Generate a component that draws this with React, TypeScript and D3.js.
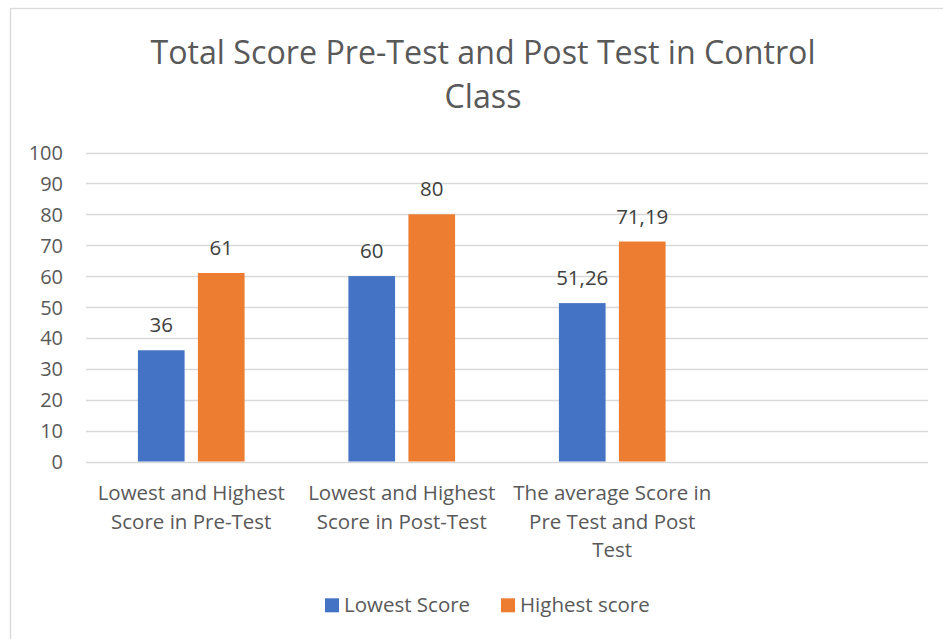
import React from "react";
import * as d3 from "d3";

const titleLines = ["Total Score Pre-Test and Post Test in Control", "Class"];
const categories = [
  "Lowest and Highest Score in Pre-Test",
  "Lowest and Highest Score in Post-Test",
  "The average Score in Pre Test and Post Test",
  "",
];
const seriesNames = ["Lowest Score", "Highest score"];
const lowestValues = [36, 60, 51.26];
const highestValues = [61, 80, 71.19];
const yTicks = [0, 10, 20, 30, 40, 50, 60, 70, 80, 90, 100];
const seriesColors = ["#4472C4", "#ED7D31"];

const W = 943;
const H = 639;
const FONT = "'Open Sans', sans-serif";
const plot = { left: 86, right: 928, top: 152.5, bottom: 461.5 };

let ctx: CanvasRenderingContext2D | null = null;
function measure(text: string, size: number) {
  if (!ctx) ctx = document.createElement("canvas").getContext("2d");
  if (!ctx) return text.length * size * 0.5;
  ctx.font = `${size}px 'Open Sans'`;
  return ctx.measureText(text).width;
}
function wrap(text: string, maxW: number, size: number) {
  const words = text.split(" ").filter(Boolean);
  const lines: string[] = [];
  let cur = "";
  for (const w of words) {
    const t = cur ? cur + " " + w : w;
    if (cur && measure(t, size) > maxW) {
      lines.push(cur);
      cur = w;
    } else cur = t;
  }
  if (cur) lines.push(cur);
  return lines;
}

export default function App() {
  const x0 = d3.scaleBand<string>().domain(categories.map((_, i) => String(i))).range([plot.left, plot.right]).paddingInner(0).paddingOuter(0);
  const x1 = d3.scaleBand<string>().domain(seriesNames).range([0, x0.bandwidth()]).paddingInner(0.222).paddingOuter(0.865);
  const y = d3.scaleLinear().domain([0, 100]).range([plot.bottom, plot.top]);
  const seriesValues = [lowestValues, highestValues];
  const fmt = (v: number) => String(v).replace(".", ",");

  const legendItems = seriesNames.map((n, i) => ({ n, c: seriesColors[i] }));
  const legendX = [325, 501];

  return (
    <svg width={W} height={H} style={{ position: "absolute", left: 0, top: 0, background: "#fff" }} fontFamily={FONT}>
      <rect x={0} y={0} width={W} height={H} fill="#fff" />
      <rect x={10.5} y={8.5} width={946} height={640} fill="#fff" stroke="#d9d9d9" strokeWidth={1.3} />
      {titleLines.map((t, i) => (
        <text key={i} x={483} y={64 + i * 44} textAnchor="middle" fontSize={32.2} fill="#595959">{t}</text>
      ))}
      {yTicks.map((t) => (
        <g key={t}>
          <line x1={plot.left} x2={plot.right} y1={Math.round(y(t)) + 0.5} y2={Math.round(y(t)) + 0.5} stroke="#d9d9d9" strokeWidth={1.3} />
          <text x={63} y={y(t) + 7.5} textAnchor="end" fontSize={20} fill="#595959">{t}</text>
        </g>
      ))}
      {seriesNames.map((s, si) =>
        seriesValues[si].map((v, ci) => {
          const bx = (x0(String(ci)) as number) + (x1(s) as number);
          return (
            <g key={s + ci}>
              <rect x={bx} y={y(v)} width={x1.bandwidth()} height={y(0) - y(v)} fill={seriesColors[si]} />
              <text x={bx + x1.bandwidth() / 2} y={y(v) - 18} textAnchor="middle" fontSize={20.5} fill="#404040">{fmt(v)}</text>
            </g>
          );
        })
      )}
      {categories.map((c, ci) => {
        const cx = (x0(String(ci)) as number) + x0.bandwidth() / 2;
        const lines = wrap(c, 205, 20.5);
        return (
          <text key={ci} textAnchor="middle" fontSize={20.5} fill="#595959">
            {lines.map((l, li) => (
              <tspan key={li} x={cx} y={500 + li * 28.6}>{l}</tspan>
            ))}
          </text>
        );
      })}
      {legendItems.map((it, i) => (
        <g key={it.n}>
          <rect x={legendX[i]} y={598.3} width={14} height={14} fill={it.c} />
          <text x={legendX[i] + 19} y={611.5} fontSize={20.5} fill="#595959">{it.n}</text>
        </g>
      ))}
    </svg>
  );
}
